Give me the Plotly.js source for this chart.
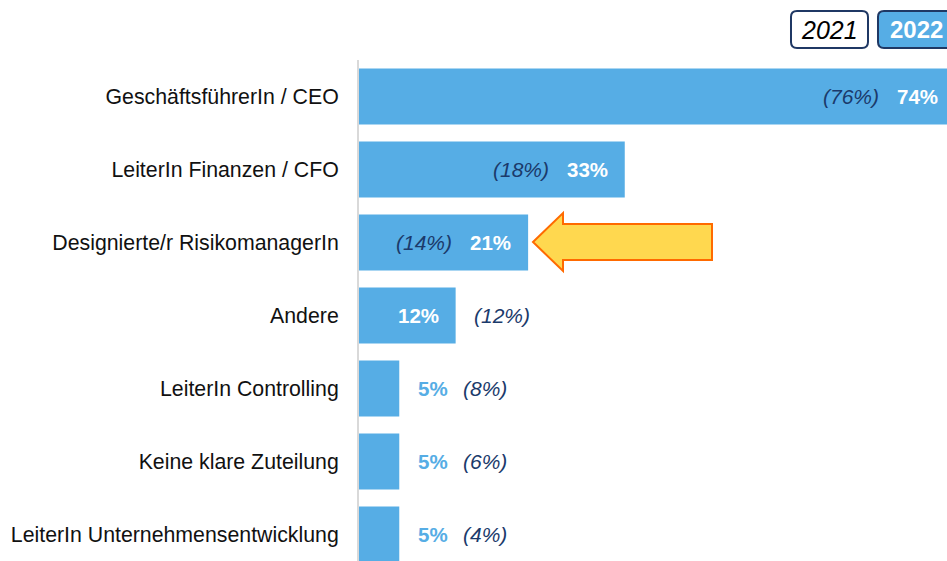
<!DOCTYPE html>
<html>
<head>
<meta charset="utf-8">
<script src="https://cdn.plot.ly/plotly-3.0.1.min.js"></script>
<style>
html,body{margin:0;padding:0;overflow:hidden;background:#fff;width:947px;height:561px;}
#chart{width:963px;height:561px;}
</style>
</head>
<body>
<div id="chart"></div>
<script>
// ---- data ----
const categories = [
  "GeschäftsführerIn / CEO",
  "LeiterIn Finanzen / CFO",
  "Designierte/r RisikomanagerIn",
  "Andere",
  "LeiterIn Controlling",
  "Keine klare Zuteilung",
  "LeiterIn Unternehmensentwicklung"
];
const values2022 = [74, 33, 21, 12, 5, 5, 5];
const values2021 = [76, 18, 14, 12, 8, 6, 4];
const legendLabels = ["2021", "2022"];

// ---- style ----
const FONT = "Liberation Sans, Arial, sans-serif";
const BAR = "#56ADE5";
const NAVY = "#1B3A6B";
const W = 963, H = 561, ML = 359, MR = 0, MT = 60, MB = 0;
const PW = W - ML - MR, PH = H - MT - MB;

function px2paper(x, y) {
  return [(x - ML) / PW, (H - MB - y) / PH];
}
function pathPx(cmds) {
  return cmds.map(c => {
    if (c[0] === 'Z') return 'Z';
    let s = c[0];
    for (let i = 1; i < c.length; i += 2) {
      const p = px2paper(c[i], c[i + 1]);
      s += (i > 1 ? ' ' : '') + p[0].toFixed(5) + ',' + p[1].toFixed(5);
    }
    return s;
  }).join(' ');
}
function roundRect(x0, y0, x1, y1, r) {
  return pathPx([
    ['M', x0 + r, y0], ['L', x1 - r, y0], ['Q', x1, y0, x1, y0 + r],
    ['L', x1, y1 - r], ['Q', x1, y1, x1 - r, y1], ['L', x0 + r, y1],
    ['Q', x0, y1, x0, y1 - r], ['L', x0, y0 + r], ['Q', x0, y0, x0 + r, y0], ['Z']
  ]);
}

const F22 = 20.5, F21 = 21;
const annotations = [];
categories.forEach((c, i) => {
  const v22 = values2022[i], v21 = values2021[i];
  const t22 = v22 + "%", t21 = "(" + v21 + "%)";
  if (v22 >= 10) {
    annotations.push({x: v22, y: c, xref: 'x', yref: 'y', text: "<b>" + t22 + "</b>", showarrow: false,
      xanchor: 'right', yanchor: 'middle', xshift: -15, font: {family: FONT, size: F22, color: '#ffffff'}});
    if (v22 >= 15) {
      annotations.push({x: v22, y: c, xref: 'x', yref: 'y', text: "<i>" + t21 + "</i>", showarrow: false,
        xanchor: 'right', yanchor: 'middle', xshift: -74, font: {family: FONT, size: F21, color: NAVY}});
    } else {
      annotations.push({x: v22, y: c, xref: 'x', yref: 'y', text: "<i>" + t21 + "</i>", showarrow: false,
        xanchor: 'left', yanchor: 'middle', xshift: 16, font: {family: FONT, size: F21, color: NAVY}});
    }
  } else {
    annotations.push({x: v22, y: c, xref: 'x', yref: 'y', text: "<b>" + t22 + "</b>", showarrow: false,
      xanchor: 'left', yanchor: 'middle', xshift: 17, font: {family: FONT, size: F22, color: BAR}});
    annotations.push({x: v22, y: c, xref: 'x', yref: 'y', text: "<i>" + t21 + "</i>", showarrow: false,
      xanchor: 'left', yanchor: 'middle', xshift: 62, font: {family: FONT, size: F21, color: NAVY}});
  }
});

// legend boxes
const box21 = [791, 11, 868, 48];
const box22 = [878, 11, 954, 48];
const c21 = px2paper((box21[0] + box21[2]) / 2, (box21[1] + box21[3]) / 2);
const c22 = px2paper((box22[0] + box22[2]) / 2, (box22[1] + box22[3]) / 2);
annotations.push({x: c21[0], y: c21[1], xref: 'paper', yref: 'paper', text: "<i>" + legendLabels[0] + "</i>",
  showarrow: false, xanchor: 'center', yanchor: 'middle', font: {family: FONT, size: 25, color: '#000000'}});
annotations.push({x: c22[0], y: c22[1], xref: 'paper', yref: 'paper', text: "<b>" + legendLabels[1] + "</b>",
  showarrow: false, xanchor: 'center', yanchor: 'middle', font: {family: FONT, size: 24, color: '#ffffff'}});

const shapes = [
  {type: 'path', xref: 'paper', yref: 'paper', path: roundRect(box21[0], box21[1], box21[2], box21[3], 6),
   fillcolor: '#ffffff', line: {color: '#1F3864', width: 2}},
  {type: 'path', xref: 'paper', yref: 'paper', path: roundRect(box22[0], box22[1], box22[2], box22[3], 6),
   fillcolor: BAR, line: {color: '#1F3864', width: 2}},
  // highlight arrow
  {type: 'path', xref: 'paper', yref: 'paper', layer: 'above',
   path: pathPx([['M', 533, 242], ['L', 563, 213], ['L', 563, 224], ['L', 712, 224], ['L', 712, 260],
                 ['L', 563, 260], ['L', 563, 271], ['Z']]),
   fillcolor: '#FFD84F', line: {color: '#FF6A00', width: 2}}
];

const trace = {
  type: 'bar', orientation: 'h',
  x: values2022, y: categories,
  marker: {color: BAR, line: {width: 0}},
  width: 0.77, hoverinfo: 'skip', cliponaxis: true
};

const layout = {
  width: W, height: H,
  margin: {l: ML, r: MR, t: MT, b: MB, pad: 0},
  paper_bgcolor: '#ffffff', plot_bgcolor: '#ffffff',
  showlegend: false,
  xaxis: {range: [0, 75], visible: false, fixedrange: true},
  yaxis: {type: 'category', range: [6.363, -0.5], showgrid: false, zeroline: false,
          showline: true, linecolor: '#D9D9D9', linewidth: 2, ticks: '', ticklabelstandoff: 14,
          tickfont: {family: FONT, size: 21.3, color: '#111111'}, fixedrange: true},
  annotations: annotations,
  shapes: shapes
};

Plotly.newPlot('chart', [trace], layout, {displayModeBar: false, staticPlot: true});
</script>
</body>
</html>
